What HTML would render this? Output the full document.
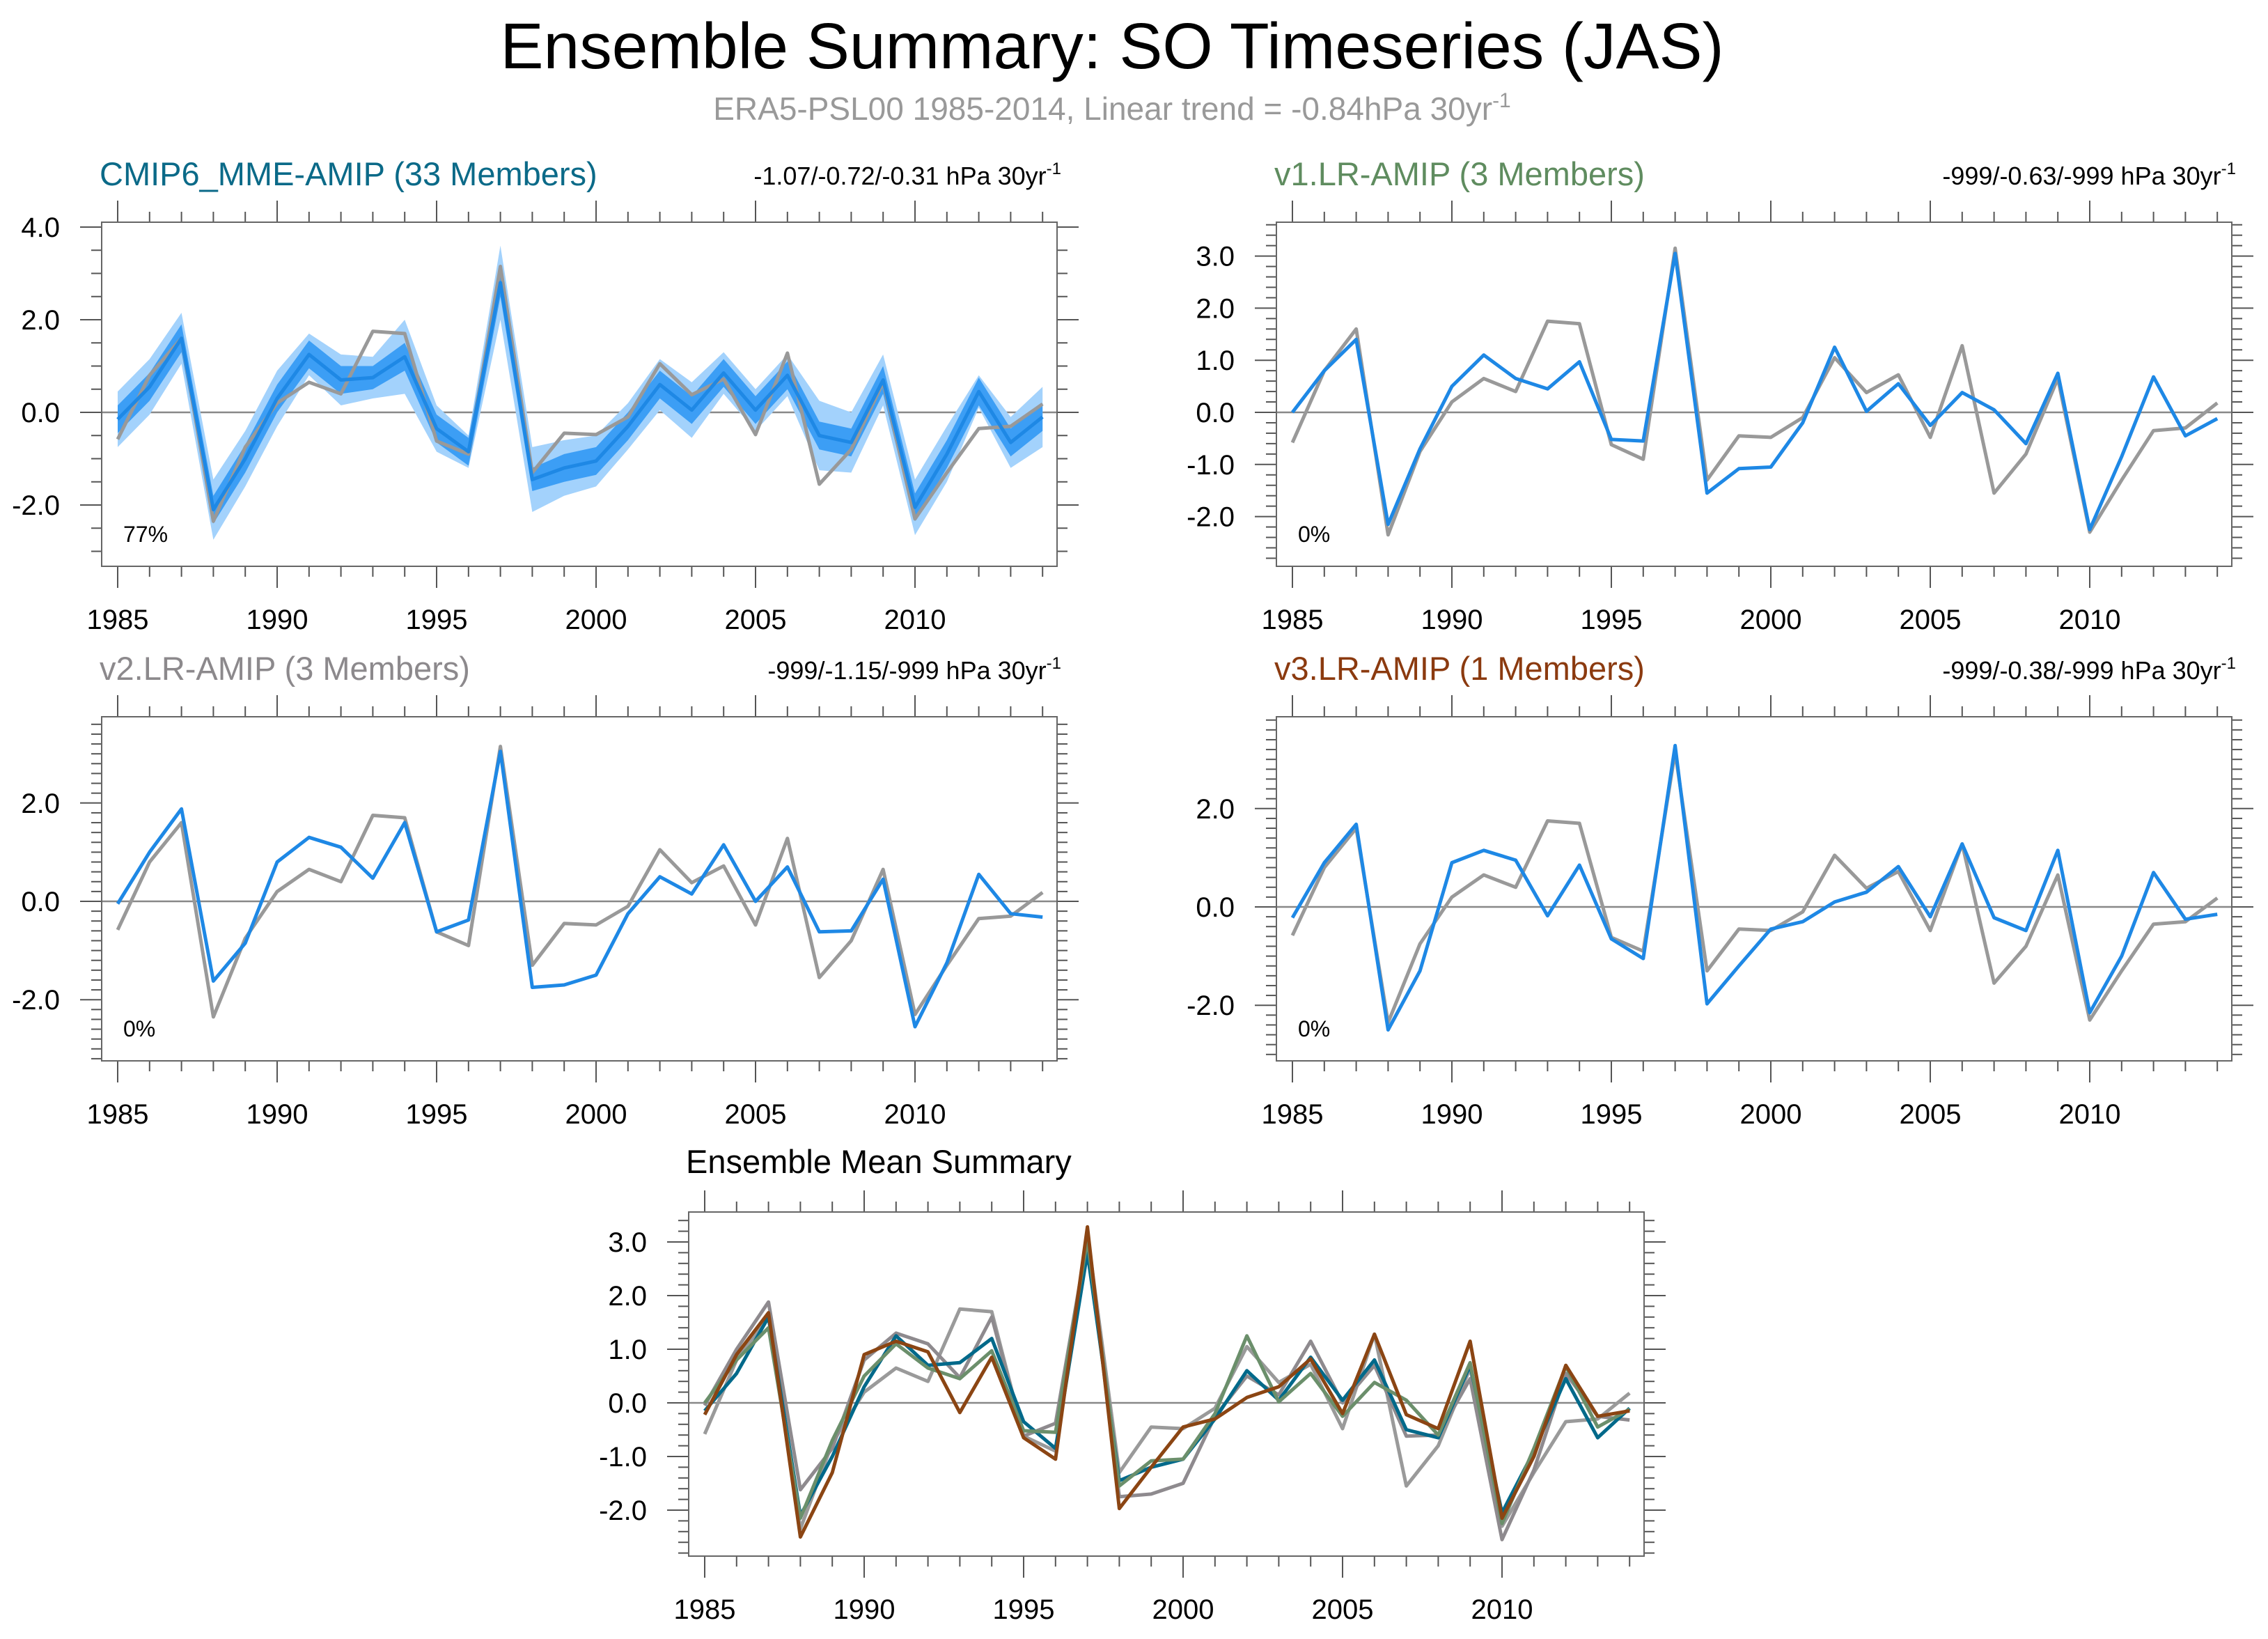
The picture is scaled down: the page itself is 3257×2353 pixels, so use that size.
<!DOCTYPE html>
<html><head><meta charset="utf-8">
<style>
html,body{margin:0;padding:0;background:#fff;}
svg{display:block;font-family:"Liberation Sans",sans-serif;}
</style></head>
<body>
<svg id="chart" width="3257" height="2353" viewBox="0 0 3257 2353" xmlns="http://www.w3.org/2000/svg">
<rect width="3257" height="2353" fill="#fff"/>
<text x="1597" y="98" font-size="93" text-anchor="middle" fill="#000">Ensemble Summary: SO Timeseries (JAS)</text>
<text x="1597" y="172" font-size="46" text-anchor="middle" fill="#999">ERA5-PSL00 1985-2014, Linear trend = -0.84hPa 30yr<tspan dy="-18" font-size="30">-1</tspan></text>
<g id="plots"></g>
</svg>
<script>
const years = [];
for (let y = 1985; y <= 2014; y++) years.push(y);
const obs = [-0.58,0.8,1.6,-2.35,-0.75,0.2,0.65,0.4,1.75,1.7,-0.62,-0.9,3.15,-1.3,-0.45,-0.48,-0.1,1.05,0.38,0.72,-0.48,1.28,-1.55,-0.8,0.65,-2.3,-1.3,-0.35,-0.3,0.18];
const mme = [-0.15,0.55,1.6,-2.1,-1.0,0.3,1.25,0.7,0.75,1.2,-0.35,-0.85,2.8,-1.45,-1.2,-1.05,-0.3,0.6,0.05,0.85,0.05,0.8,-0.5,-0.65,0.7,-2.05,-0.9,0.45,-0.65,-0.1];
const mmeInner = [0.3,0.3,0.3,0.3,0.3,0.3,0.3,0.3,0.25,0.3,0.3,0.3,0.3,0.25,0.3,0.3,0.3,0.3,0.3,0.3,0.3,0.3,0.3,0.3,0.3,0.3,0.3,0.3,0.3,0.3];
const mmeOuter = [0.6,0.6,0.55,0.65,0.6,0.6,0.45,0.55,0.45,0.8,0.5,0.35,0.8,0.7,0.6,0.55,0.5,0.55,0.6,0.45,0.45,0.45,0.75,0.65,0.55,0.6,0.6,0.35,0.55,0.65];
const v1 = [0.0,0.8,1.4,-2.15,-0.7,0.5,1.1,0.65,0.45,0.97,-0.52,-0.55,3.05,-1.55,-1.08,-1.05,-0.2,1.25,0.02,0.55,-0.25,0.38,0.05,-0.6,0.75,-2.25,-0.85,0.68,-0.45,-0.12];
const v2 = [-0.05,1.0,1.88,-1.62,-0.85,0.8,1.3,1.1,0.47,1.6,-0.62,-0.38,3.05,-1.75,-1.7,-1.5,-0.25,0.5,0.15,1.15,0.0,0.7,-0.62,-0.6,0.45,-2.55,-1.25,0.55,-0.25,-0.32];
const v3 = [-0.22,0.9,1.68,-2.5,-1.3,0.9,1.15,0.95,-0.18,0.85,-0.65,-1.05,3.28,-1.97,-1.2,-0.45,-0.3,0.1,0.3,0.82,-0.2,1.28,-0.22,-0.48,1.15,-2.15,-1.0,0.7,-0.25,-0.15];
const xTickLabels = ["1985","1990","1995","2000","2005","2010"];
const yTicksP1 = [-2,0,2,4];
const yTicksP2 = [-2,-1,0,1,2,3];
const yTicksP3 = [-2,0,2];
const yTicksP5 = [-2,-1,0,1,2,3];

const NS = "http://www.w3.org/2000/svg";
const root = document.getElementById('plots');
function mk(tag, attrs, parent, text){
  const e = document.createElementNS(NS, tag);
  for (const k in attrs) e.setAttribute(k, attrs[k]);
  if (text !== undefined) e.textContent = text;
  (parent||root).appendChild(e);
  return e;
}
const BLUE = "#1e88e5";
function panel(cfg){
  const g = mk('g', {});
  
  
  const L=cfg.left, R=cfg.left+1372, T=cfg.top, B=cfg.top+494;
  const x0=cfg.left+23, dx=45.8;
  const X = yr => x0 + (yr-1985)*dx;
  const Y = v => cfg.zero - v*cfg.ky;
  const vTop=(cfg.zero-T)/cfg.ky, vBot=-(B-cfg.zero)/cfg.ky;
  const cid = 'clip'+cfg.name;
  const cp = mk('clipPath',{id:cid},g); mk('rect',{x:L,y:T,width:R-L,height:B-T},cp);
  const tg = mk('g',{stroke:"#555","stroke-width":2},g);
  
  
  years.forEach(yr=>{
    const maj = (yr%5===0);
    const len = maj?31:15;
    mk('line',{x1:X(yr),x2:X(yr),y1:B,y2:B+len},tg);
    mk('line',{x1:X(yr),x2:X(yr),y1:T,y2:T-len},tg);
  });
  xTickLabels.forEach(s=>{
    const t = mk('text',{x:X(+s),y:B+90,"font-size":40,"text-anchor":"middle",fill:"#000"},g,s);
    
    
  });
  const yg = mk('g',{stroke:"#555","stroke-width":2},g);
  
  
  const mstep = cfg.minor;
  for (let v=Math.ceil(vBot/mstep)*mstep; v<=vTop+1e-9; v+=mstep){
    const vv = Math.round(v*100)/100;
    const maj = cfg.yticks.some(t=>Math.abs(t-vv)<1e-6);
    const len = maj?31:15;
    mk('line',{x1:L,x2:L-len,y1:Y(vv),y2:Y(vv)},yg);
    mk('line',{x1:R,x2:R+len,y1:Y(vv),y2:Y(vv)},yg);
  }
  cfg.yticks.forEach(v=>{
    const t = mk('text',{x:L-60,y:Y(v)+14,"font-size":40,"text-anchor":"end",fill:"#000"},g,v.toFixed(1));
    
    
  });
  const pg = mk('g',{"clip-path":`url(#${cid})`},g);
  mk('line',{x1:L,x2:R,y1:Y(0),y2:Y(0),stroke:"#888","stroke-width":2.5},pg);
  const path = arr => arr.map((v,i)=>(i?'L':'M')+X(years[i]).toFixed(1)+','+Y(v).toFixed(1)).join('');
  if (cfg.bands){
    const band = (sp) => {
      let d = mme.map((v,i)=>(i?'L':'M')+X(years[i]).toFixed(1)+','+Y(v+sp[i]).toFixed(1)).join('');
      for (let i=mme.length-1;i>=0;i--) d += 'L'+X(years[i]).toFixed(1)+','+Y(mme[i]-sp[i]).toFixed(1);
      return d+'Z';
    };
    const b1 = mk('path',{d:band(mmeOuter),fill:"#a3d2fc"},pg);
    
    
    const b2 = mk('path',{d:band(mmeInner),fill:"#3c9ef5"},pg);
    
    
  }
  cfg.series.forEach(s=>{
    const p = mk('path',{d:path(s.data),fill:"none",stroke:s.color,"stroke-width":s.w||5,"stroke-linejoin":"round"},pg);
    
    
  });
  mk('rect',{x:L,y:T,width:R-L,height:B-T,fill:"none",stroke:"#666","stroke-width":2},g);
  if (cfg.title){
    const t = mk('text',{x:L-3,y:T-53,"font-size":47,fill:cfg.tcolor},g,cfg.title);
    
    
  }
  if (cfg.trend){
    const t = mk('text',{x:R+6,y:T-54,"font-size":36,"text-anchor":"end",fill:"#000"},g,cfg.trend);
    mk('tspan',{dy:-15,"font-size":24},t,'-1');
    
    
  }
  if (cfg.pct){
    const t = mk('text',{x:L+31,y:B-35,"font-size":32,fill:"#000"},g,cfg.pct);
    
    
  }
}
panel({name:'panel-cmip6-mme',left:146,top:319,zero:592,ky:66.5,yticks:yTicksP1,minor:0.5,bands:true,
  title:'CMIP6_MME-AMIP (33 Members)',tcolor:'#0b6a88',trend:'-1.07/-0.72/-0.31 hPa 30yr',pct:'77%',
  series:[{data:obs,color:'#999',name:'obs-line'},{data:mme,color:BLUE,name:'mme-mean-line'}]});
panel({name:'panel-v1',left:1833,top:319,zero:592,ky:74.8,yticks:yTicksP2,minor:0.2,
  title:'v1.LR-AMIP (3 Members)',tcolor:'#5f8c5f',trend:'-999/-0.63/-999 hPa 30yr',pct:'0%',
  series:[{data:obs,color:'#999',name:'obs-line'},{data:v1,color:BLUE,name:'v1-line'}]});
panel({name:'panel-v2',left:146,top:1029,zero:1294,ky:70.6,yticks:yTicksP3,minor:0.2,
  title:'v2.LR-AMIP (3 Members)',tcolor:'#8c898c',trend:'-999/-1.15/-999 hPa 30yr',pct:'0%',
  series:[{data:obs,color:'#999',name:'obs-line'},{data:v2,color:BLUE,name:'v2-line'}]});
panel({name:'panel-v3',left:1833,top:1029,zero:1302,ky:70.6,yticks:yTicksP3,minor:0.2,
  title:'v3.LR-AMIP (1 Members)',tcolor:'#8b3a0f',trend:'-999/-0.38/-999 hPa 30yr',pct:'0%',
  series:[{data:obs,color:'#999',name:'obs-line'},{data:v3,color:BLUE,name:'v3-line'}]});
panel({name:'panel-ensemble-mean',left:989,top:1740,zero:2014,ky:77,yticks:yTicksP5,minor:0.2,
  series:[{data:obs,color:'#9a9a9a',name:'obs-line'},{data:v2,color:'#8e8a8e',name:'v2-mean-line'},
          {data:mme,color:'#00698a',name:'mme-mean-line'},{data:v1,color:'#6b8f6b',name:'v1-mean-line'},
          {data:v3,color:'#8b4513',name:'v3-mean-line'}]});
const et = mk('text',{x:985,y:1684,"font-size":47,fill:"#000"},root,'Ensemble Mean Summary');


</script>
</body></html>
